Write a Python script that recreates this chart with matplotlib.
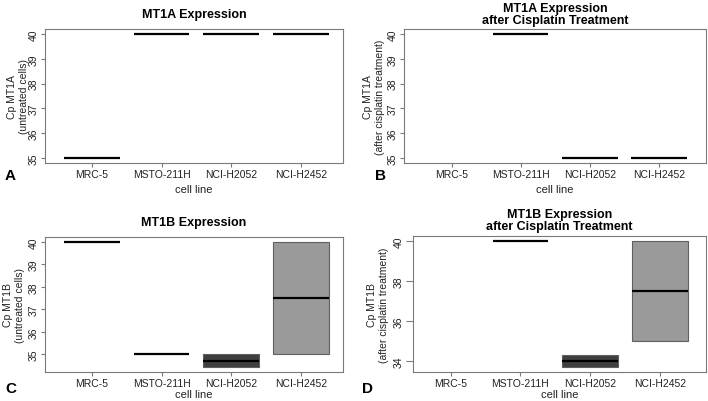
import matplotlib
matplotlib.use("Agg")
import matplotlib.pyplot as plt

plt.rcParams['font.family'] = ['Liberation Sans', 'DejaVu Sans']

cell_lines = ["MRC-5", "MSTO-211H", "NCI-H2052", "NCI-H2452"]

# (q1, median, q3) per cell line; None = no data
mt1a_untreated = [(35, 35, 35), (40, 40, 40), (40, 40, 40), (40, 40, 40)]
mt1a_cisplatin = [None, (40, 40, 40), (35, 35, 35), (35, 35, 35)]
mt1b_untreated = [(40, 40, 40), (35, 35, 35), (34.42, 34.7, 35.0), (35.0, 37.5, 40.0)]
mt1b_cisplatin = [None, (40, 40, 40), (33.68, 34.0, 34.3), (35.0, 37.5, 40.0)]

box_colors = [None, None, "#3f3f3f", "#9a9a9a"]

titles = ["MT1A Expression", "MT1A Expression\nafter Cisplatin Treatment",
          "MT1B Expression", "MT1B Expression\nafter Cisplatin Treatment"]
ylabels = ["Cp MT1A\n(untreated cells)", "Cp MT1A\n(after cisplatin treatment)",
           "Cp MT1B\n(untreated cells)", "Cp MT1B\n(after cisplatin treatment)"]
letters = ["A", "B", "C", "D"]
datasets = [mt1a_untreated, mt1a_cisplatin, mt1b_untreated, mt1b_cisplatin]
yticks = [[35, 36, 37, 38, 39, 40], [35, 36, 37, 38, 39, 40],
          [35, 36, 37, 38, 39, 40], [34, 36, 38, 40]]

W, H = 708, 402
fig = plt.figure(figsize=(W / 100, H / 100), dpi=100)

# pixel boxes: left, right, top, bottom
boxes = [(45, 343, 30, 164), (404, 706, 30, 164), (45, 343, 238, 373), (413, 706, 237, 373)]
xlims = [(0.33, 4.6), (0.31, 4.68), (0.33, 4.6), (0.46, 4.66)]
ylims = [(34.8, 40.2), (34.8, 40.2), (34.22, 40.22), (33.45, 40.27)]
letter_pos = [(5, 176), (375, 176), (5, 389), (362, 389)]
ylabel_x = [18, 374, 14, 378]
title_pad = [8.5, 4.3, 8.5, 4.7]
tick_len = [3, 3, 3, 5]
xlabel_pad = [3.5, 3.5, 0.3, 0.3]

axcol = "#7a7a7a"
txtcol = "#222222"
for i in range(4):
    l, r, t, b = boxes[i]
    ax = fig.add_axes([l / W, (H - b) / H, (r - l) / W, (b - t) / H])
    stats, pos, cols = [], [], []
    for j, d in enumerate(datasets[i]):
        if d is None:
            continue
        q1, med, q3 = d
        stats.append(dict(med=med, q1=q1, q3=q3, whislo=q1, whishi=q3, fliers=[]))
        pos.append(j + 1)
        cols.append(box_colors[j])
    bp = ax.bxp(stats, positions=pos, widths=0.8, showcaps=False, patch_artist=True,
                showfliers=False,
                medianprops=dict(color="black", linewidth=1.6, solid_capstyle="butt"),
                whiskerprops=dict(linewidth=0),
                boxprops=dict(linewidth=0.8))
    for patch, c, s in zip(bp['boxes'], cols, stats):
        if s['q1'] == s['q3'] or c is None:
            patch.set_facecolor("none")
            patch.set_edgecolor("none")
        else:
            patch.set_facecolor(c)
            patch.set_edgecolor("#606060")
    ax.set_xlim(*xlims[i])
    ax.set_ylim(*ylims[i])
    ax.set_xticks(range(1, 5))
    ax.set_xticklabels(cell_lines, fontsize=7.5, color=txtcol)
    ax.set_yticks(yticks[i])
    ax.set_yticklabels([str(v) for v in yticks[i]], fontsize=7.5, rotation=90,
                       va="center", color=txtcol)
    ax.tick_params(axis="both", width=0.8, color=axcol, pad=1.5)
    ax.tick_params(axis="y", length=tick_len[i])
    ax.tick_params(axis="x", length=3)
    for sp in ax.spines.values():
        sp.set_color(axcol)
        sp.set_linewidth(0.8)
    ax.set_xlabel("cell line", fontsize=8, color=txtcol, labelpad=xlabel_pad[i])
    fig.text(ylabel_x[i] / W, 1 - ((t + b) / 2) / H, ylabels[i], fontsize=7.5,
             color=txtcol, rotation=90, ha="center", va="center", ma="center",
             linespacing=1.3)
    ax.set_title(titles[i], fontsize=9, fontweight="bold", pad=title_pad[i], linespacing=1.05)
    lx, ly = letter_pos[i]
    fig.text(lx / W, 1 - ly / H, letters[i], fontsize=11, fontweight="bold",
             ha="left", va="center")

fig.savefig("out.png", dpi=100)
